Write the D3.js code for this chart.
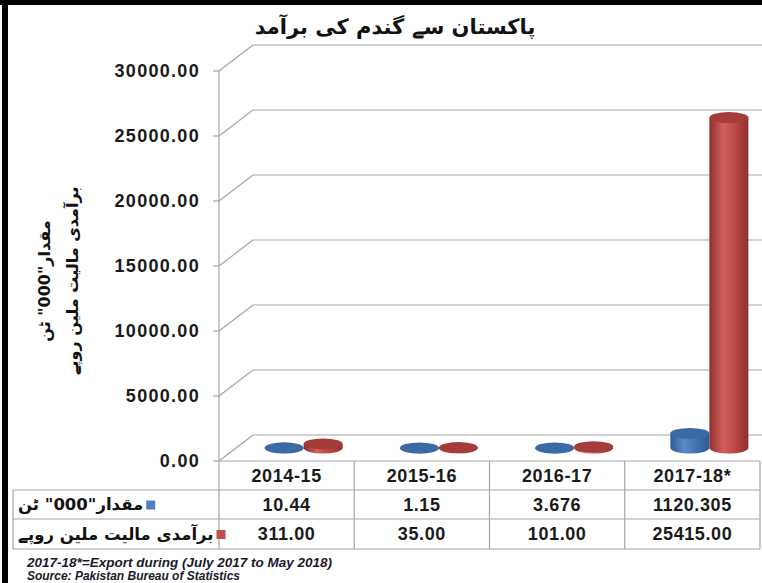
<!DOCTYPE html>
<html>
<head>
<meta charset="utf-8">
<script src="https://cdn.jsdelivr.net/npm/d3@7"></script>
<style>
  body { margin: 0; background: #fff; }
  svg { display: block; }
</style>
</head>
<body>
<div id="chart"></div>
<script>
// data
var years = ["2014-15", "2015-16", "2016-17", "2017-18*"];
var qty = [10.44, 1.15, 3.676, 1120.305];          // "000" tonnes
var qtyLabels = ["10.44", "1.15", "3.676", "1120.305"];
var value = [311.00, 35.00, 101.00, 25415.00];     // million rupees
var valueLabels = ["311.00", "35.00", "101.00", "25415.00"];
var yTicks = [0, 5000, 10000, 15000, 20000, 25000, 30000];
var seriesNames = ["مقدار\"000\" ٹن", "برآمدی مالیت ملین روپے"];
var seriesColors = ["#4f81bd", "#c0504d"];

var W = 762, H = 583;
var svg = d3.select("#chart").append("svg").attr("width", W).attr("height", H);

// frame
svg.append("rect").attr("x", 0).attr("y", 0).attr("width", W).attr("height", 5).attr("fill", "#000");
svg.append("rect").attr("x", 2).attr("y", 0).attr("width", 6).attr("height", H).attr("fill", "#000");

// 3d offsets for the back wall
var dx = 34, dy = -26;
var x0 = 219, x1 = 760;

var x = d3.scaleBand().domain(years).range([x0, x1]).padding(0);
var y = d3.scaleLinear().domain([0, 30000]).range([461, 71]);

var grid = svg.append("g").attr("stroke", "#a6a6a6").attr("fill", "none").attr("stroke-width", 1.2);
yTicks.forEach(function(t) {
  var yy = y(t);
  grid.append("line").attr("x1", 213).attr("x2", x0).attr("y1", yy).attr("y2", yy);
  grid.append("line").attr("x1", x0).attr("x2", x0 + dx).attr("y1", yy).attr("y2", yy + dy);
  grid.append("line").attr("x1", x0 + dx).attr("x2", W).attr("y1", yy + dy).attr("y2", yy + dy);
});
grid.append("line").attr("x1", x0).attr("x2", x0).attr("y1", y(30000)).attr("y2", 549);

// y tick labels
svg.append("g").selectAll("text").data(yTicks).join("text")
  .attr("x", 200).attr("y", function(d) { return y(d); })
  .attr("dy", "0.36em")
  .attr("text-anchor", "end")
  .attr("font-family", "Liberation Sans, Arial, sans-serif")
  .attr("font-weight", "bold").attr("font-size", 18)
  .attr("letter-spacing", 1.3)
  .attr("fill", "#1a1a1a")
  .text(function(d) { return d3.format(".2f")(d); });

// title
svg.append("text").attr("x", 395).attr("y", 34).attr("text-anchor", "middle")
  .attr("font-family", "DejaVu Sans, sans-serif").attr("font-weight", "bold").attr("font-size", 21)
  .attr("fill", "#111").text("پاکستان سے گندم کی برآمد");

// y axis title
var yt = svg.append("g").attr("transform", "translate(50,281) rotate(-90)")
  .attr("font-family", "DejaVu Sans, sans-serif").attr("font-weight", "bold").attr("font-size", 16)
  .attr("fill", "#111").attr("text-anchor", "middle");
yt.append("text").attr("x", 0).attr("y", 0).text(seriesNames[0]);
yt.append("text").attr("x", 0).attr("y", 28).text(seriesNames[1]);

// gradients for cylinders
var defs = svg.append("defs");
function grad(id, dark, mid, light) {
  var g = defs.append("linearGradient").attr("id", id).attr("x1", "0%").attr("x2", "100%");
  g.append("stop").attr("offset", "0%").attr("stop-color", dark);
  g.append("stop").attr("offset", "35%").attr("stop-color", light);
  g.append("stop").attr("offset", "70%").attr("stop-color", mid);
  g.append("stop").attr("offset", "100%").attr("stop-color", dark);
}
grad("gBlue", "#2e5b95", "#3f70ae", "#5a8cc9");
grad("gRed", "#8f302d", "#b8443f", "#d0605b");
var fills = ["url(#gBlue)", "url(#gRed)"];
var tops = ["#3b69a6", "#a63c39"];

var barW = 39;
var bars = svg.append("g");
years.forEach(function(cat, i) {
  var cx = x(cat) + x.bandwidth() / 2 + dx / 2;
  [qty[i], value[i]].forEach(function(v, s) {
    var left = cx - barW + s * barW;
    var rx = barW / 2, ry = 5.5;
    var yb = y(0) + dy / 2;
    var ytop = y(v) + dy / 2;
    var mx = left + rx;
    bars.append("path")
      .attr("d", "M" + left + "," + ytop + " L" + left + "," + yb +
        " A" + rx + "," + ry + " 0 0 0 " + (left + barW) + "," + yb +
        " L" + (left + barW) + "," + ytop + " Z")
      .attr("fill", fills[s]);
    bars.append("ellipse").attr("cx", mx).attr("cy", ytop).attr("rx", rx).attr("ry", ry)
      .attr("fill", tops[s]);
  });
});

// data table
var rowsY = [461, 490, 519, 549];
var tbl = svg.append("g").attr("stroke", "#a6a6a6").attr("stroke-width", 1.2);
tbl.append("line").attr("x1", x0).attr("x2", x1).attr("y1", rowsY[0]).attr("y2", rowsY[0]);
[1, 2, 3].forEach(function(r) {
  tbl.append("line").attr("x1", 13).attr("x2", x1).attr("y1", rowsY[r]).attr("y2", rowsY[r]);
});
tbl.append("line").attr("x1", 13).attr("x2", 13).attr("y1", rowsY[1]).attr("y2", rowsY[3]);
years.forEach(function(cat) {
  tbl.append("line").attr("x1", x(cat) + x.bandwidth()).attr("x2", x(cat) + x.bandwidth())
    .attr("y1", rowsY[0]).attr("y2", rowsY[3]);
});

var txt = svg.append("g").attr("font-family", "Liberation Sans, Arial, sans-serif")
  .attr("font-weight", "bold").attr("font-size", 18).attr("fill", "#1a1a1a")
  .attr("text-anchor", "middle").attr("letter-spacing", 0.6);
years.forEach(function(cat, i) {
  var cx = x(cat) + x.bandwidth() / 2;
  txt.append("text").attr("x", cx).attr("y", (rowsY[0] + rowsY[1]) / 2).attr("dy", "0.36em").text(cat);
  txt.append("text").attr("x", cx).attr("y", (rowsY[1] + rowsY[2]) / 2).attr("dy", "0.36em").text(qtyLabels[i]);
  txt.append("text").attr("x", cx).attr("y", (rowsY[2] + rowsY[3]) / 2).attr("dy", "0.36em").text(valueLabels[i]);
});

// legend keys in the table: label first, key square after it
seriesNames.forEach(function(n, s) {
  var cy = (rowsY[s + 1] + rowsY[s + 2]) / 2;
  var lab = svg.append("text").attr("x", 18).attr("y", cy).attr("dy", "0.36em")
    .attr("font-family", "DejaVu Sans, sans-serif").attr("font-weight", "bold").attr("font-size", 16.5)
    .attr("fill", "#111").text(n);
  var wLab = lab.node().getComputedTextLength();
  svg.append("rect").attr("x", 18 + wLab + 3).attr("y", cy - 4).attr("width", 9).attr("height", 9)
    .attr("fill", seriesColors[s]);
});

// notes
var notes = svg.append("g").attr("font-family", "Liberation Sans, Arial, sans-serif")
  .attr("font-style", "italic").attr("font-weight", "bold").attr("font-size", 12).attr("fill", "#1a1a2a");
notes.append("text").attr("x", 27).attr("y", 567).attr("textLength", 305).attr("lengthAdjust", "spacingAndGlyphs")
  .text("2017-18*=Export during (July 2017 to May 2018)");
notes.append("text").attr("x", 27).attr("y", 580).attr("textLength", 213).attr("lengthAdjust", "spacingAndGlyphs")
  .text("Source: Pakistan Bureau of Statistics");
</script>
</body>
</html>
